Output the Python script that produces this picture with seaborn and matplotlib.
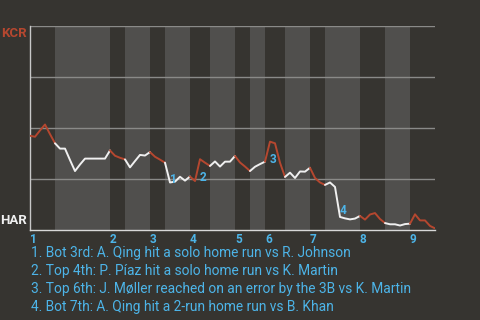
import matplotlib
matplotlib.use("Agg")
import matplotlib.pyplot as plt
import matplotlib.transforms as mtransforms
import numpy as np
import pandas as pd
import seaborn as sns

# ---------------- data ----------------
# KCR win probability after each plate appearance (event index 0..81)
wp = [0.462, 0.457, 0.488, 0.517, 0.470, 0.425, 0.399, 0.399, 0.343, 0.289,
      0.321, 0.350, 0.350, 0.350, 0.350, 0.350, 0.390, 0.364, 0.354, 0.346,
      0.307, 0.338, 0.368, 0.365, 0.382, 0.359, 0.345, 0.330, 0.233, 0.237,
      0.261, 0.242, 0.262, 0.240, 0.347, 0.330, 0.314, 0.336, 0.311, 0.335,
      0.335, 0.363, 0.331, 0.311, 0.289, 0.310, 0.323, 0.335, 0.433, 0.425,
      0.330, 0.260, 0.281, 0.255, 0.287, 0.286, 0.305, 0.255, 0.233, 0.221,
      0.233, 0.211, 0.064, 0.057, 0.052, 0.056, 0.069, 0.051, 0.076, 0.083,
      0.054, 0.034, 0.028, 0.028, 0.022, 0.029, 0.031, 0.077, 0.047, 0.047,
      0.020, 0.008]
# event indices where each half-inning starts/ends (top 1, bot 1, top 2, ...)
half_bounds = [0, 5, 16, 19, 24, 27, 32, 36, 41, 44, 47, 51, 56, 59, 66, 71, 76, 81]
inning_labels = ["1", "2", "3", "4", "5", "6", "7", "8", "9"]
teams = ["KCR", "HAR"]  # away (top), home (bottom)
event_idx = [28, 34, 48, 62]
event_label_y = [0.248, 0.256, 0.348, 0.098]
event_marks = ["1", "2", "3", "4"]
event_text = [
    "1. Bot 3rd: A. Qing hit a solo home run vs R. Johnson",
    "2. Top 4th: P. Píaz hit a solo home run vs K. Martin",
    "3. Top 6th: J. Møller reached on an error by the 3B vs K. Martin",
    "4. Bot 7th: A. Qing hit a 2-run home run vs B. Khan",
]

# ---------------- style ----------------
BG = "#363430"
BAND = "#504f4d"
GRID = "#8a8a88"
RED = "#b5472f"
WHITE = "#f0f0f0"
BLUE = "#4db4e8"

sns.set_theme(style="white")
plt.rcParams["font.family"] = ["Roboto", "DejaVu Sans"]

fig = plt.figure(figsize=(4.8, 3.2), dpi=100, facecolor=BG)
ax = fig.add_axes([30 / 480, 1 - 230 / 320, 405 / 480, 204 / 320])
ax.set_facecolor(BG)

# bottom-half shading
for k in range(1, len(half_bounds) - 1, 2):
    ax.axvspan(half_bounds[k], half_bounds[k + 1], color=BAND, lw=0, zorder=0)

for yv in [0.25, 0.5, 0.75, 1.0]:
    ax.axhline(yv, color=GRID, lw=1.0, zorder=1)

# build segments per half inning
rows = []
for h in range(len(half_bounds) - 1):
    for i in range(half_bounds[h], half_bounds[h + 1] + 1):
        rows.append({"x": i, "wp": wp[i], "half": h})
df = pd.DataFrame(rows)
palette = {h: (RED if h % 2 == 0 else WHITE) for h in df["half"].unique()}
sns.lineplot(data=df, x="x", y="wp", hue="half", palette=palette,
             estimator=None, sort=False, legend=False, lw=1.4, ax=ax, zorder=3)

ax.set_xlim(0, half_bounds[-1])
ax.set_ylim(0, 1)
ax.set_xlabel("")
ax.set_ylabel("")
ax.set_yticks([])
ax.set_xticks(half_bounds[0::2])
ax.set_xticklabels(inning_labels, ha="left", color=BLUE, fontweight="bold", fontsize=8.5)
ax.tick_params(axis="x", length=0, pad=2)
for s in ["top", "right"]:
    ax.spines[s].set_visible(False)
ax.spines["left"].set_color("#c8c8c8")
ax.spines["left"].set_linewidth(1.0)
ax.spines["bottom"].set_color("#d8d8d8")
ax.spines["bottom"].set_linewidth(1.0)

# team labels
trans = mtransforms.blended_transform_factory(ax.transAxes, ax.transData)
ax.text(-0.007, 0.995, teams[0], transform=trans, ha="right", va="top",
        color=RED, fontweight="bold", fontsize=9.5)
ax.text(-0.007, 0.015, teams[1], transform=trans, ha="right", va="bottom",
        color=WHITE, fontweight="bold", fontsize=9.5)

# event markers
for xi, yi, m in zip(event_idx, event_label_y, event_marks):
    ax.text(xi, yi, m, ha="left", va="center", color=BLUE, fontweight="bold",
            fontsize=8.5, zorder=4)

# event descriptions
for j, t in enumerate(event_text):
    fig.text(31 / 480, 1 - (253.5 + 17.7 * j) / 320, t, ha="left", va="center",
             color=BLUE, fontsize=9.9)

fig.savefig("out.png", dpi=100, facecolor=BG)
